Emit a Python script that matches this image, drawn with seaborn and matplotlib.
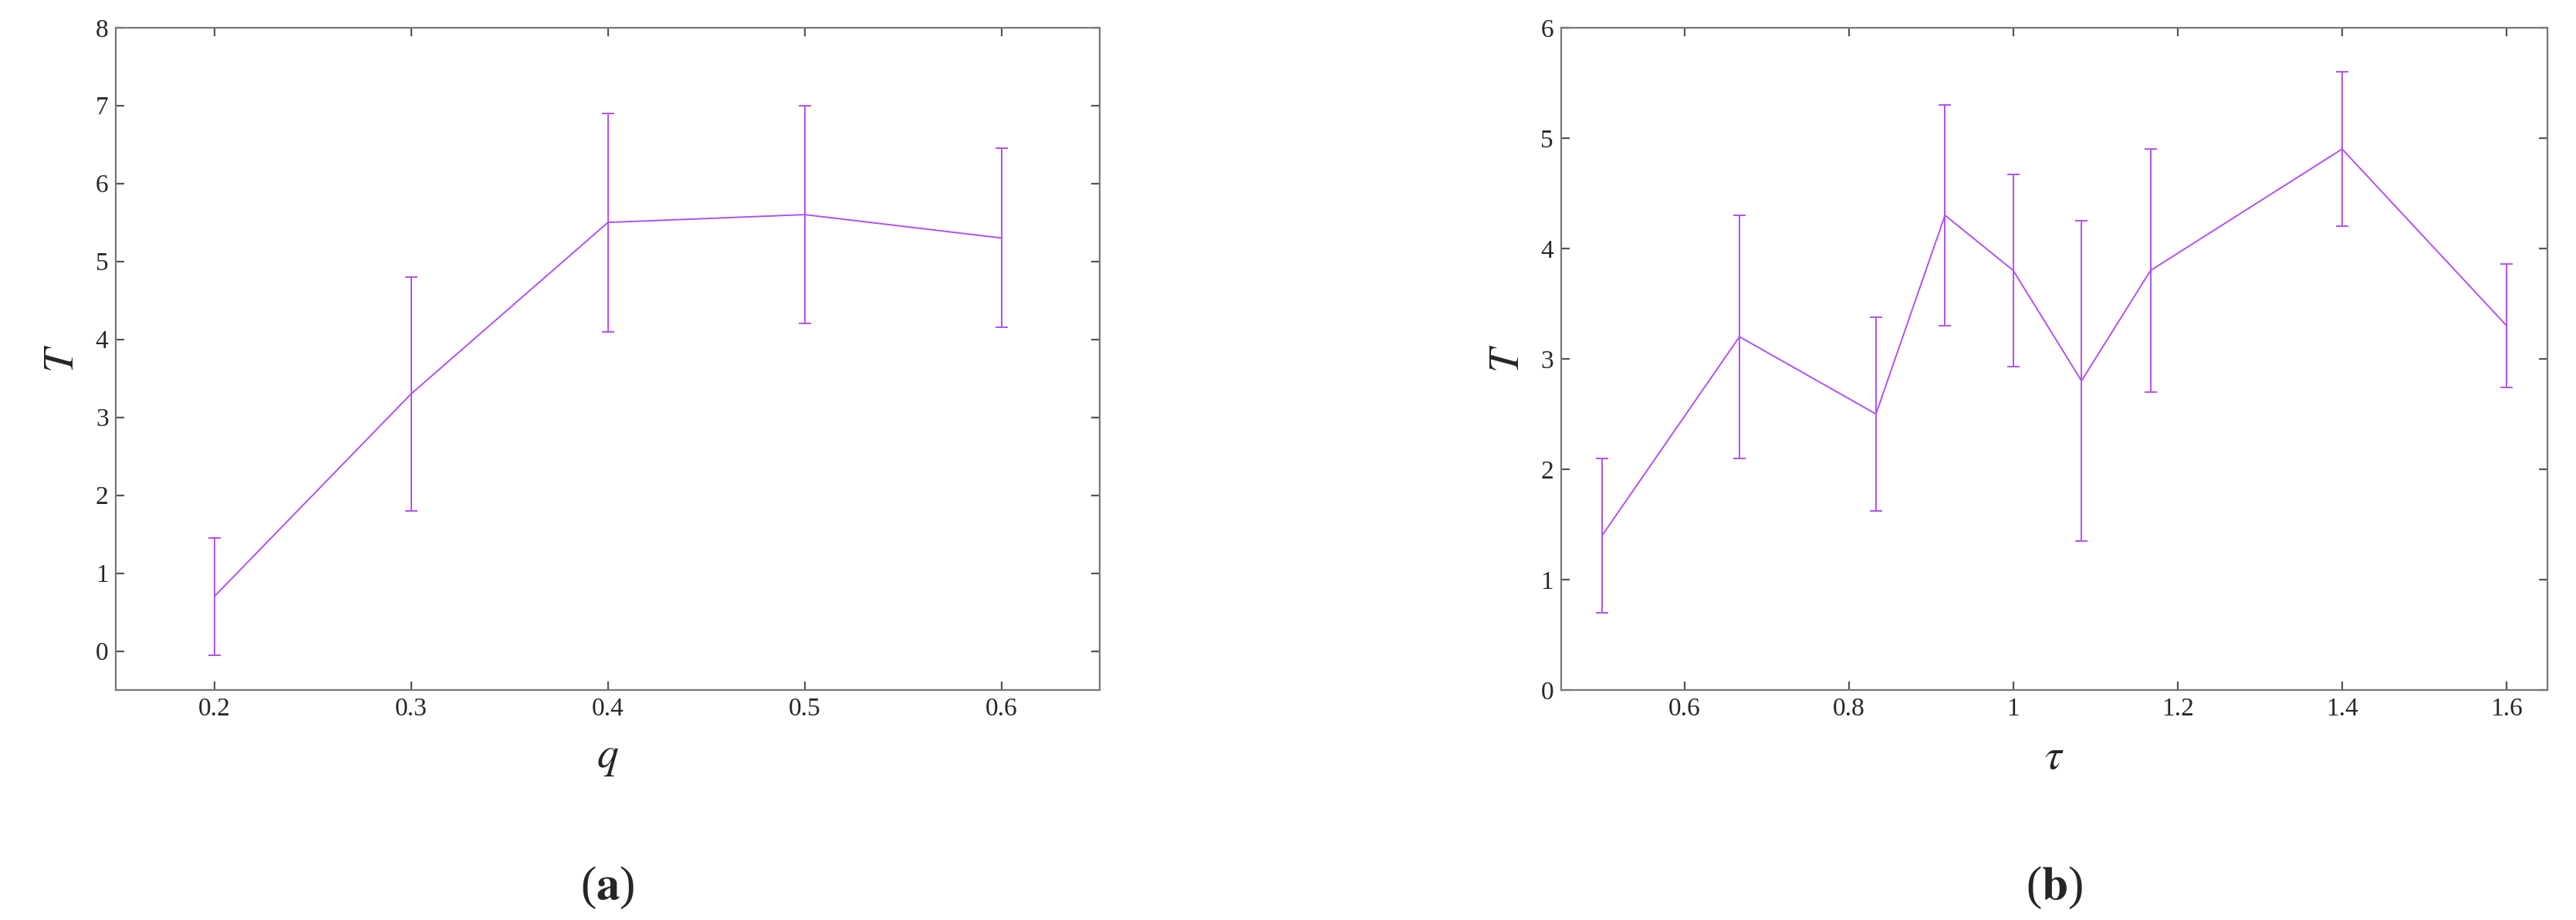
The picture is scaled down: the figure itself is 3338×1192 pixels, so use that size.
import numpy as np
import pandas as pd
import matplotlib
matplotlib.use("Agg")
import matplotlib.pyplot as plt
import seaborn as sns

# --- data ---
q_vals = [0.2, 0.3, 0.4, 0.5, 0.6]
T_q = [0.7, 3.3, 5.5, 5.6, 5.3]
err_q = [0.75, 1.5, 1.4, 1.4, 1.15]

tau_vals = [0.5, 0.667, 0.833, 0.917, 1.0, 1.083, 1.167, 1.4, 1.6]
T_tau = [1.4, 3.2, 2.5, 4.3, 3.8, 2.8, 3.8, 4.9, 3.3]
err_tau = [0.7, 1.1, 0.88, 1.0, 0.87, 1.45, 1.1, 0.7, 0.56]

sns.set_style("ticks")
plt.rcParams['font.family'] = ['Liberation Serif', 'DejaVu Serif']
plt.rcParams['mathtext.fontset'] = 'stix'

color = '#b050f0'
fig = plt.figure(figsize=(16.69, 5.96), dpi=200)
ax1 = fig.add_axes([0.045, 0.25, 0.382, 0.72])
ax2 = fig.add_axes([0.606, 0.25, 0.383, 0.72])

def panel(ax, x, y, e, xlabel, letter, xlim, ylim, xticks, yticks, xticklabels):
    df = pd.DataFrame({'x': x, 'y': y})
    sns.lineplot(data=df, x='x', y='y', ax=ax, color=color, linewidth=0.7)
    ax.errorbar(x, y, yerr=e, fmt='none', ecolor=color, elinewidth=0.7, capsize=3, capthick=0.7)
    ax.set_xlim(*xlim)
    ax.set_ylim(*ylim)
    ax.set_xticks(xticks)
    ax.set_xticklabels(xticklabels)
    ax.set_yticks(yticks)
    ax.tick_params(direction='in', labelsize=12, length=4, top=True, right=True, color='#555555')
    for s in ax.spines.values():
        s.set_color('#777777')
        s.set_linewidth(0.8)
    ax.set_xlabel(xlabel, fontsize=20, labelpad=8)
    ax.set_ylabel(r'$T$', fontsize=20, labelpad=6)
    pos = ax.get_position()
    fig.text((pos.x0 + pos.x1) / 2, 0.035, r'($\mathbf{%s}$)' % letter,
             ha='center', va='center', fontsize=22)

panel(ax1, q_vals, T_q, err_q, r'$q$', 'a', (0.15, 0.65), (-0.5, 8),
      [0.2, 0.3, 0.4, 0.5, 0.6], range(0, 9), ['0.2', '0.3', '0.4', '0.5', '0.6'])
panel(ax2, tau_vals, T_tau, err_tau, r'$\tau$', 'b', (0.45, 1.65), (0, 6),
      [0.6, 0.8, 1.0, 1.2, 1.4, 1.6], range(0, 7), ['0.6', '0.8', '1', '1.2', '1.4', '1.6'])

fig.savefig('out.png', dpi=200)
